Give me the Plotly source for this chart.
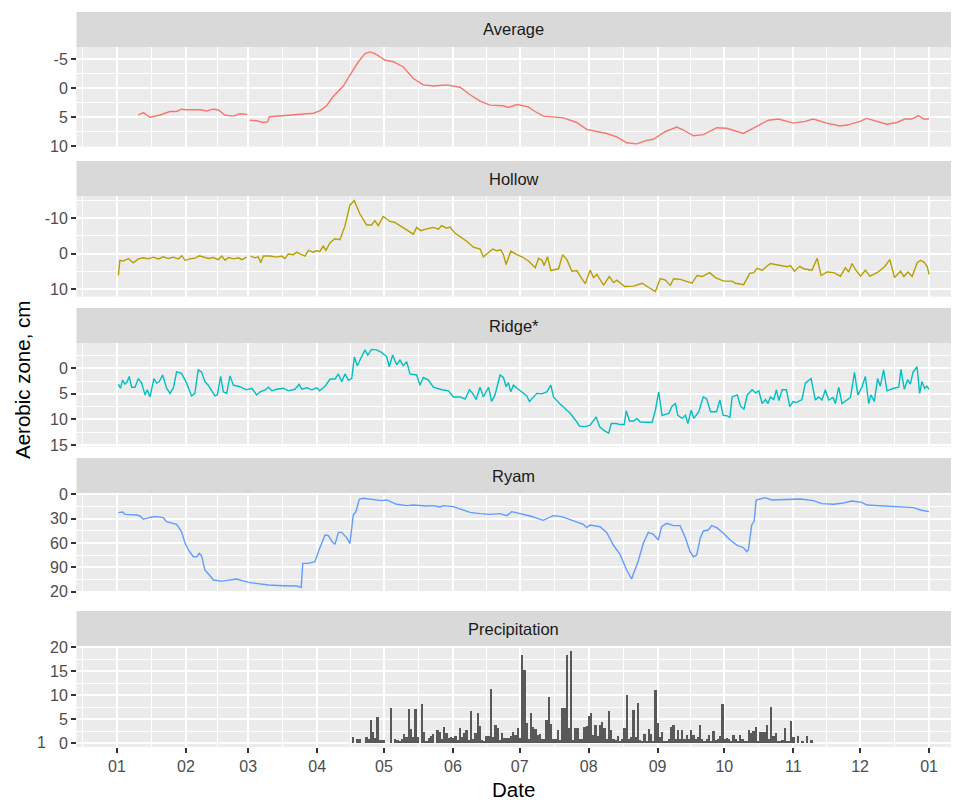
import pandas as pd
import plotly.graph_objects as go

BASE = pd.Timestamp("2015-01-01")

# ---------------- data (day offsets from 1 Jan, values in cm / mm) ----------------
avg_day = [9.6, 11.9, 14.8, 19.3, 23.8, 26.8, 29.0, 31.3, 37.3, 40.3, 43.3, 45.5, 48.5, 52.3, 55.2, 58.6,
           None,
           59.8, 62.8, 65.8, 67.7, 68.5, 71.8, 76.3, 82.3, 88.2, 91.2, 94.2, 97.2, 101.7, 104.7, 108.5,
           111.5, 113.7, 116, 120.4, 124.2, 128.7, 133.2, 137.7, 142.2, 148.2, 154.2, 158.7, 163.2,
           167.7, 173.6, 175.9, 179.7, 184.9, 187.9, 191.6, 200.6, 206.6, 211.1, 220.1, 224.6, 229.1,
           233.6, 238.1, 241.1, 246.3, 251.6, 254.6, 259.1, 263.6, 269.6, 274.1, 281.5, 287.5, 292.8,
           297.3, 304, 309.3, 313, 319, 325, 328.7, 334, 337, 341.5, 346, 350.5, 354.2, 357.2, 360.2,
           362.5, 365]
avg_val = [4.6, 4.2, 5.0, 4.6, 4.0, 4.0, 3.6, 3.7, 3.7, 3.9, 3.6, 3.7, 4.6, 4.8, 4.4, 4.5,
           None,
           5.5, 5.6, 5.9, 5.8, 4.9, 4.8, 4.6, 4.5, 4.3, 3.9, 3.0, 1.4, -0.4, -2.3, -4.6,
           -6.0, -6.3, -6.0, -4.9, -4.6, -3.7, -1.7, -0.6, -0.4, -0.6, -0.2, 1.1, 2.2,
           2.9, 3.0, 3.3, 2.8, 3.2, 4.0, 4.8, 5.1, 5.9, 7.1, 7.8, 8.4, 9.4,
           9.6, 9.0, 8.8, 7.5, 6.7, 7.2, 8.2, 8.0, 6.8, 6.9, 7.8, 6.6, 5.5,
           5.3, 6.0, 5.7, 5.3, 6.0, 6.5, 6.3, 5.7, 5.2, 5.7, 6.2, 5.9, 5.3, 5.3, 4.7,
           5.3, 5.3]

hollow_day = [0.6, 1.3, 2.8, 5.1, 7.3, 9.6, 11.8, 14.1, 16.3, 18.6, 20.8, 23.1, 25.3, 27.6, 29.1, 30.6,
              32.8, 35.1, 37.0, 38.8, 41.1, 43.3, 45.6, 47.1, 48.6, 50.1, 52.3, 54.6, 56.1, 58.3,
              None,
              60.1, 62.0, 63.5, 64.6, 65.8, 68.8, 71.8, 74.0, 75.5, 77.0, 79.3, 80.8, 82.3, 84.5, 86.0,
              88.2, 89.7, 91.2, 92.7, 93.9, 95.7, 97.9, 100.2, 102.4, 104.7, 106.6, 109.2, 112.2, 114.4,
              115.9, 117.4, 119.7, 122.7, 124.9, 127.2, 130.9, 133.2, 134.7, 136.5, 139.2, 142.2, 144.4,
              145.9, 148.2, 149.7, 151.9, 154.9, 157.2, 160.2, 163.2, 164.7, 166.2, 168.9, 170.7, 172.5,
              173.7, 174.9, 177.0, 179.7, 182.0, 185.0, 188.0, 189.5, 191.0, 192.0, 193.5, 195.0, 197.0,
              198.5, 200.3, 202.2, 204.5, 206.7, 208.2, 210.5, 212.7, 214.2, 215.7, 218.7, 221.3, 223.2,
              224.7, 228.2, 232.2, 236.0, 239.0, 242.0, 244.2, 246.5, 248.7, 250.2, 253.2, 256.2, 258.5,
              260.7, 263.0, 266.4, 269.0, 272.7, 276.5, 278.0, 281.7, 284.4, 286.2, 287.7, 290.0, 293.7,
              298.2, 301.2, 302.7, 304.5, 306.9, 308.7, 312.4, 314.7, 316.5, 319.2, 322.2, 325.2, 327.4,
              328.9, 330.4, 331.9, 334.2, 336.4, 338.4, 341.7, 345.0, 347.4, 349.5, 352.2, 353.7, 355.5,
              357.4, 359.7, 361.2, 362.7, 364.2, 365.0]
hollow_val = [6.2, 1.9, 2.1, 1.4, 2.6, 1.5, 1.2, 1.5, 1.0, 1.5, 0.9, 1.4, 1.0, 1.5, 0.6, 1.9,
              1.5, 1.3, 0.6, 1.0, 1.4, 1.1, 1.7, 0.7, 1.9, 1.1, 1.5, 1.2, 1.7, 1.0,
              None,
              0.7, 1.2, 0.9, 2.6, 0.7, 0.7, 1.0, 0.7, 1.4, 0.1, 0.3, -0.4, 0.1, 0.7, -0.9,
              -0.4, -0.8, -0.6, -2.1, -0.9, -3.0, -4.2, -3.9, -7.7, -13.7, -15.0, -11.2, -8.1, -8.1,
              -9.3, -7.9, -10.5, -9.1, -8.8, -7.9, -6.3, -5.5, -7.4, -6.5, -7.0, -7.4, -6.9,
              -7.9, -7.2, -7.5, -5.8, -4.4, -3.5, -1.8, -1.3, 0.9, 0.1, -1.3, -0.8, -1.1,
              0.3, 3.1, -0.7, 0.3, 0.9, 2.1, 4.0, 1.3, 1.9, 3.4, 0.9, 4.8, 4.5,
              4.3, 0.3, 1.7, 5.0, 4.8, 6.4, 8.5, 4.7, 6.8, 5.9, 8.9, 6.5, 8.2,
              7.5, 9.3, 9.2, 8.4, 9.6, 10.7, 7.1, 7.5, 9.0, 7.1, 7.3, 8.0, 8.4,
              6.2, 6.5, 5.4, 6.8, 7.8, 7.8, 8.4, 8.8, 5.6, 5.4, 4.2, 4.7, 2.8,
              3.4, 3.7, 3.4, 5.0, 3.6, 4.3, 4.7, 1.3, 6.2, 5.2, 5.4, 6.4, 4.0,
              5.2, 2.8, 4.5, 6.4, 4.7, 6.4, 5.4, 3.7, 1.7, 6.8, 5.0, 6.5, 5.2,
              6.5, 2.6, 1.9, 2.4, 3.7, 5.9]

ridge_day = [0.6, 1.6, 2.5, 3.6, 4.6, 5.5, 6.6, 8.1, 9.6, 11.1, 12.6, 13.6, 14.8, 16.6, 17.8, 19.0,
             20.5, 22.3, 23.8, 25.3, 26.8, 29.0, 31.3, 33.5, 35.0, 36.5, 38.0, 39.5, 41.0, 44.0, 45.1,
             46.6, 47.8, 49.3, 50.8, 52.3, 55.2, 58.2, 60.6, 62.8, 64.3, 66.6, 68.1, 69.6, 71.8, 74.8,
             77.0, 80.0, 81.9, 83.1, 85.3, 87.6, 89.8, 91.0, 93.5, 95.8, 98.0, 99.5, 101.0, 102.5, 104.0,
             105.5, 106.7, 108.0, 110.0, 111.5, 112.7, 114.4, 116.7, 118.9, 121.2, 122.4, 123.9, 125.7,
             127.2, 128.7, 130.2, 131.7, 134.7, 136.2, 137.7, 140.0, 142.2, 146.0, 149.0, 151.2, 154.2,
             156.5, 158.4, 159.9, 161.4, 163.2, 164.7, 167.0, 168.4, 169.9, 172.2, 173.7, 174.9, 175.9,
             177.0, 178.2, 180.4, 184.2, 185.4, 187.2, 188.7, 190.9, 193.2, 195.0, 196.2, 199.2, 203.7,
             206.7, 207.9, 210.5, 212.7, 215.4, 216.9, 218.7, 221.0, 222.2, 224.4, 226.2, 228.0, 228.9,
             230.4, 232.2, 233.7, 235.2, 238.2, 240.5, 242.0, 243.5, 245.0, 248.0, 249.5, 251.0, 252.1,
             254.0, 255.5, 256.6, 258.1, 259.3, 261.5, 263.5, 265.0, 266.8, 269.5, 271.0, 272.5, 274.3,
             275.5, 276.5, 278.8, 280.3, 281.8, 283.3, 285.5, 287.0, 288.5, 290.0, 291.5, 292.6, 293.7,
             295.2, 296.4, 297.5, 299.0, 300.9, 302.4, 303.9, 305.4, 307.9, 309.4, 312.0, 313.9, 315.4,
             316.9, 318.4, 319.9, 321.9, 322.9, 324.4, 325.9, 328.2, 329.7, 331.5, 333.0, 334.9, 336.4,
             337.9, 338.9, 340.4, 341.9, 343.1, 344.6, 346.1, 349.1, 351.4, 352.4, 353.9, 355.4, 356.6,
             357.8, 359.6, 360.8, 361.8, 363.0, 364.1, 365.0]
ridge_val = [3.1, 3.9, 2.3, 3.1, 2.6, 1.6, 3.7, 3.7, 2.0, 2.9, 5.2, 4.2, 5.6, 2.0, 2.9, 2.6,
             1.3, 3.9, 4.9, 3.9, 0.7, 1.0, 2.9, 5.4, 4.9, 0.3, 0.7, 2.6, 3.3, 5.4, 5.2,
             1.6, 4.6, 4.9, 1.5, 3.3, 3.6, 4.2, 3.9, 5.2, 4.6, 4.2, 3.7, 4.4, 4.1, 3.9,
             4.4, 4.1, 3.1, 4.1, 3.8, 4.2, 3.8, 4.4, 3.5, 2.1, 2.1, 1.1, 2.6, 1.1, 2.3,
             2.0, -2.2, -0.5, -2.3, -3.6, -2.6, -3.7, -3.6, -3.1, -2.3, -0.3, -2.6, -0.7,
             -1.6, -0.5, -1.3, 1.1, 1.3, 3.3, 1.8, 2.3, 3.7, 4.2, 4.4, 5.6, 5.6,
             6.0, 4.2, 4.9, 6.1, 3.7, 5.6, 3.7, 6.5, 5.2, 1.3, 1.8, 3.6, 2.8,
             4.6, 3.3, 4.1, 5.4, 6.5, 5.6, 4.9, 5.0, 4.6, 3.3, 5.6, 7.0, 8.8,
             10.5, 11.3, 11.4, 11.1, 9.5, 11.4, 12.1, 12.7, 10.8, 10.8, 11.0, 11.0, 8.3,
             10.3, 10.3, 9.8, 10.5, 10.5, 10.6, 8.2, 4.6, 9.2, 8.8, 7.4, 6.9, 9.2,
             9.8, 9.2, 10.8, 8.2, 9.8, 8.5, 5.6, 5.9, 8.5, 8.5, 6.2, 9.2, 9.3,
             9.6, 5.6, 5.2, 7.4, 8.0, 5.2, 4.2, 4.8, 4.4, 6.9, 6.1, 6.9, 5.6,
             6.1, 4.2, 6.3, 4.2, 4.2, 7.5, 6.5, 6.7, 6.1, 2.9, 2.0, 6.2, 5.6,
             6.2, 4.2, 6.2, 5.7, 6.9, 3.7, 6.9, 6.2, 5.7, 0.8, 5.2, 3.6, 1.6,
             6.9, 5.2, 6.5, 2.0, 3.5, 0.3, 4.4, 3.9, 3.7, 0.2, 4.1, 2.2, 3.1,
             0.8, -0.3, 4.9, 2.6, 3.9, 3.5, 4.1]

ryam_day = [0.6, 2.5, 3.6, 6.6, 8.8, 10.4, 11.8, 13.3, 15.6, 17.8, 20.8, 22.3, 24.6, 26.8, 29.0, 30.6,
            32.1, 34.3, 35.8, 37.0, 38.0, 39.5, 41.8, 43.3, 47.1, 50.8, 53.8, 59.1, 62.8, 68.1, 74.8,
            80.8, 82.8, 83.5, 86.0, 89.0, 90.5, 92.0, 93.5, 95.0, 96.5, 98.0, 99.5, 101.0, 103.2, 104.7,
            106.2, 107.4, 108.9, 110.7, 113.7, 118.9, 121.2, 125.7, 130.2, 133.2, 139.2, 142.2, 145.2,
            146.7, 151.2, 155.7, 158.7, 163.2, 167.7, 172.2, 175.2, 177.4, 181.9, 185.7, 191.6, 196.1,
            199.9, 205.1, 209.6, 211.1, 212.6, 217.1, 220.1, 223.1, 226.1, 229.1, 231.3, 234.3, 236.6,
            238.8, 241.1, 243.3, 244.8, 247.1, 250.1, 253.1, 255.3, 257.6, 259.1, 260.6, 262.1, 263.6,
            265.8, 267.3, 269.6, 272.6, 275.6, 278.6, 281.6, 283.1, 283.8, 285.3, 286.4, 287.3, 289.1,
            291.3, 294.3, 301.1, 307.1, 313.1, 316.8, 322.1, 325.8, 330.3, 334.8, 337.1, 343.1, 347.6,
            353.6, 358.1, 361.1, 364.1, 365.0]
ryam_val = [22.6, 21.8, 24.7, 24.7, 25.5, 26.7, 30.8, 29.6, 27.9, 27.5, 28.8, 33.7, 35.8, 37.0, 46.0, 60.4,
            68.6, 76.9, 76.9, 72.7, 75.6, 93.3, 100.3, 105.6, 106.9, 105.6, 104.4, 108.5, 109.7, 111.8, 112.6,
            113.0, 114.7, 85.1, 85.1, 83.0, 70.7, 59.2, 50.1, 51.0, 57.5, 61.7, 46.9, 46.9, 53.4, 60.4,
            25.5, 21.4, 6.2, 4.9, 5.8, 7.8, 7.0, 12.3, 14.0, 13.2, 14.4, 14.0, 15.6,
            14.0, 15.2, 19.3, 22.2, 23.8, 24.7, 23.8, 26.3, 21.4, 23.8, 26.7, 32.1, 26.3,
            27.5, 32.9, 37.0, 41.1, 37.8, 39.9, 46.9, 62.5, 74.0, 93.3, 104.4, 82.2, 60.4,
            46.9, 49.3, 56.3, 39.9, 35.8, 38.6, 38.6, 52.2, 70.7, 76.9, 74.8, 54.3, 45.2,
            44.0, 38.6, 41.1, 48.1, 56.3, 62.5, 65.8, 70.7, 68.6, 37.8, 32.9, 7.0, 5.8,
            4.1, 7.0, 6.2, 5.8, 7.8, 11.5, 12.3, 11.1, 8.2, 9.9, 13.2, 14.0, 15.2,
            15.2, 16.4, 19.3, 20.6, 21.4]

precip_day = [106, 108, 109, 112, 113, 114, 115, 116, 117, 118, 119, 120, 123, 125, 126, 127, 128, 129,
              130, 131, 132, 133, 134, 135, 137, 138, 139, 140, 141, 142, 144, 145, 146, 147, 148, 149,
              150, 151, 152, 153, 154, 155, 156, 157, 158, 159, 160, 161, 162, 163, 164, 165, 166, 167,
              168, 169, 170, 171, 172, 173, 174, 175, 176, 177, 178, 179, 180, 181, 182, 183, 184, 185,
              186, 187, 188, 189, 190, 191, 192, 193, 194, 195, 196, 197, 198, 199, 200, 201, 202, 203,
              204, 205, 206, 207, 208, 209, 210, 211, 212, 213, 214, 215, 216, 217, 218, 219, 220, 221,
              222, 223, 224, 225, 226, 227, 228, 229, 230, 231, 232, 233, 234, 235, 236, 237, 238, 239,
              240, 241, 242, 243, 244, 245, 246, 247, 248, 249, 250, 251, 252, 253, 254, 255, 256, 257,
              258, 259, 260, 261, 262, 263, 264, 265, 266, 267, 268, 269, 270, 271, 272, 273, 274, 275,
              276, 277, 278, 279, 280, 281, 282, 283, 284, 285, 286, 287, 288, 289, 290, 291, 292, 293,
              294, 295, 296, 297, 298, 299, 300, 301, 302, 303, 304, 306, 308, 310, 312]
precip_mm = [1.4, 1.0, 1.0, 1.4, 0.9, 4.9, 2.4, 1.2, 5.4, 0.7, 0.7, 0.6, 7.4, 0.8, 0.6, 0.5, 1.0, 1.9,
             1.4, 7.1, 2.9, 1.4, 7.2, 1.4, 8.1, 2.4, 0.5, 1.2, 1.5, 1.9, 2.8, 2.4, 1.0, 3.3, 2.1, 1.2,
             1.4, 1.2, 1.6, 0.7, 3.2, 1.4, 2.1, 2.8, 0.7, 6.8, 1.0, 2.1, 6.4, 3.7, 0.7, 0.5, 1.5, 1.5,
             11.4, 1.4, 3.75, 3.1, 0.7, 2.1, 1.1, 1.1, 1.2, 1.5, 2.4, 1.7, 3.1, 1.2, 18.4, 15.3, 4.2, 1.0,
             6.4, 3.3, 2.9, 1.7, 1.9, 1.0, 1.0, 4.9, 9.6, 4.0, 0.8, 1.0, 2.8, 0.7, 7.3, 7.3, 18.4, 3.1,
             19.2, 0.7, 3.2, 3.2, 1.0, 0.8, 3.3, 3.6, 5.7, 6.4, 1.7, 3.75, 1.6, 3.75, 4.4, 3.1, 1.0, 6.7,
             2.8, 1.0, 0.7, 1.5, 0.5, 1.0, 3.2, 10.0, 1.0, 1.4, 6.9, 1.4, 8.5, 0.7, 0.5, 1.9, 0.5, 2.9,
             1.9, 0.5, 11.1, 4.3, 1.4, 2.4, 0.5, 0.5, 1.0, 3.3, 3.9, 1.0, 2.8, 1.0, 2.8, 1.0, 1.7, 1.0,
             2.8, 1.8, 1.0, 1.4, 3.75, 1.0, 0.5, 1.0, 1.7, 0.5, 2.6, 0.7, 1.0, 1.5, 8.1, 1.0, 1.2, 1.0,
             0.5, 1.7, 1.0, 0.5, 1.8, 1.0, 0.5, 0.5, 2.8, 2.1, 2.6, 3.3, 0.5, 2.4, 2.4, 2.4, 3.9, 1.0,
             7.5, 1.5, 2.1, 0.5, 0.5, 0.7, 3.2, 0.5, 0.5, 4.6, 1.4, 1.5, 0.5, 1.5, 0.7]

panel_names = ["Average", "Hollow", "Ridge*", "Ryam", "Precipitation"]
line_colors = ["#F8766D", "#B79F00", "#00BFC4", "#619CFF"]

# y tick labels per panel
y_ticks = [
    ([-5, 0, 5, 10], ["-5", "0", "5", "10"]),
    ([-10, 0, 10], ["-10", "0", "10"]),
    ([0, 5, 10, 15], ["0", "5", "10", "15"]),
    ([0, 30, 60, 90, 120], ["0", "30", "60", "90", "20"]),
    ([0, 5, 10, 15, 20], ["0", "5", "10", "15", "20"]),
]
y_minor = [2.5, 5, 2.5, 15, 2.5]
y_ranges = [[10.05, -7.15], [12.2, -16.3], [15.33, -4.95], [121.6, -1.6], [-0.77, 20.27]]

# ---------------- layout geometry (pixels) ----------------
W, H = 957, 800
PX_L, PX_R = 76.5, 951
strip_top = [12, 161, 308, 458, 611]
panel_top = [47, 196, 343, 493, 646]
panel_bot = [146.5, 296.7, 446.7, 593, 747]


def to_dates(days):
    return [BASE + pd.Timedelta(days=d) if d is not None else None for d in days]


fig = go.Figure()
series = [(avg_day, avg_val), (hollow_day, hollow_val), (ridge_day, ridge_val), (ryam_day, ryam_val)]
for i, (d, v) in enumerate(series):
    ax = "" if i == 0 else str(i + 1)
    fig.add_trace(go.Scatter(x=to_dates(d), y=v, mode="lines",
                             line=dict(color=line_colors[i], width=1.4),
                             connectgaps=False, showlegend=False,
                             xaxis="x" + ax, yaxis="y" + ax))

fig.add_trace(go.Bar(x=to_dates(precip_day), y=precip_mm, marker=dict(color="#595959", line=dict(width=0)),
                     width=0.8 * 86400000, showlegend=False, xaxis="x5", yaxis="y5"))

# month majors and mid-month minors
month_starts = pd.date_range("2014-12-01", "2016-02-01", freq="MS")
minor_vals = [month_starts[k] + (month_starts[k + 1] - month_starts[k]) / 2 for k in range(len(month_starts) - 1)]
x_range = [BASE - pd.Timedelta(days=(117 - PX_L) / 2.2247), BASE + pd.Timedelta(days=(PX_R - 117) / 2.2247)]

font_family = "Liberation Sans, Arial, sans-serif"
layout = dict(width=W, height=H, margin=dict(l=0, r=0, t=0, b=0, pad=0), autosize=False,
              paper_bgcolor="white", plot_bgcolor="#EBEBEB", bargap=0,
              font=dict(family=font_family))

shapes, annotations = [], []
for i in range(5):
    ax = "" if i == 0 else str(i + 1)
    ydom = [1 - panel_bot[i] / H, 1 - panel_top[i] / H]
    is_bottom = (i == 4)
    layout["xaxis" + ax] = dict(
        domain=[PX_L / W, PX_R / W], anchor="y" + ax, type="date", range=x_range, automargin=False,
        tickmode="linear", tick0="2015-01-01", dtick="M1", tickformat="%m",
        showticklabels=is_bottom, ticks="outside" if is_bottom else "", ticklen=4.5, tickwidth=1.6,
        tickcolor="#333333", tickfont=dict(size=16, color="#4D4D4D", family=font_family),
        showgrid=True, gridcolor="white", gridwidth=1.9, zeroline=False, showline=False,
        minor=dict(tickmode="array", tickvals=minor_vals, showgrid=True, gridcolor="white", gridwidth=0.9,
                   ticks=""),
        fixedrange=True)
    tv, tt = y_ticks[i]
    layout["yaxis" + ax] = dict(
        domain=ydom, anchor="x" + ax, range=y_ranges[i], autorange=False, automargin=False,
        tickmode="array", tickvals=tv, ticktext=tt,
        ticks="outside", ticklen=4.5, tickwidth=1.6, tickcolor="#333333",
        tickfont=dict(size=16, color="#4D4D4D", family=font_family),
        showgrid=True, gridcolor="white", gridwidth=1.9, zeroline=False, showline=False,
        minor=dict(tickmode="linear", tick0=0, dtick=y_minor[i], showgrid=True, gridcolor="white",
                   gridwidth=0.9, ticks=""),
        fixedrange=True)
    # strip
    shapes.append(dict(type="rect", xref="paper", yref="paper", x0=PX_L / W, x1=PX_R / W,
                       y0=1 - panel_top[i] / H, y1=1 - strip_top[i] / H,
                       fillcolor="#D9D9D9", line=dict(width=0), layer="below"))
    annotations.append(dict(text=panel_names[i], xref="paper", yref="paper",
                            x=(PX_L + PX_R) / 2 / W, y=1 - (strip_top[i] + panel_top[i]) / 2 / H,
                            xanchor="center", yanchor="middle", showarrow=False,
                            font=dict(size=16.5, color="#1A1A1A", family=font_family)))

annotations.append(dict(text="Aerobic zone, cm", xref="paper", yref="paper", x=22 / W, y=1 - 380 / H,
                        textangle=-90, xanchor="center", yanchor="middle", showarrow=False,
                        font=dict(size=20.5, color="black", family=font_family)))
annotations.append(dict(text="Date", xref="paper", yref="paper", x=(PX_L + PX_R) / 2 / W, y=1 - 789 / H,
                        xanchor="center", yanchor="middle", showarrow=False,
                        font=dict(size=20.5, color="black", family=font_family)))
annotations.append(dict(text="1", xref="paper", yref="paper", x=41.5 / W, y=1 - 742 / H,
                        xanchor="center", yanchor="middle", showarrow=False,
                        font=dict(size=16, color="#4D4D4D", family=font_family)))

layout["shapes"] = shapes
layout["annotations"] = annotations
fig.update_layout(**layout)
fig.write_html("out.html", config={"displayModeBar": False},
               post_script="document.body.style.margin='0';document.body.style.overflow='hidden';")
